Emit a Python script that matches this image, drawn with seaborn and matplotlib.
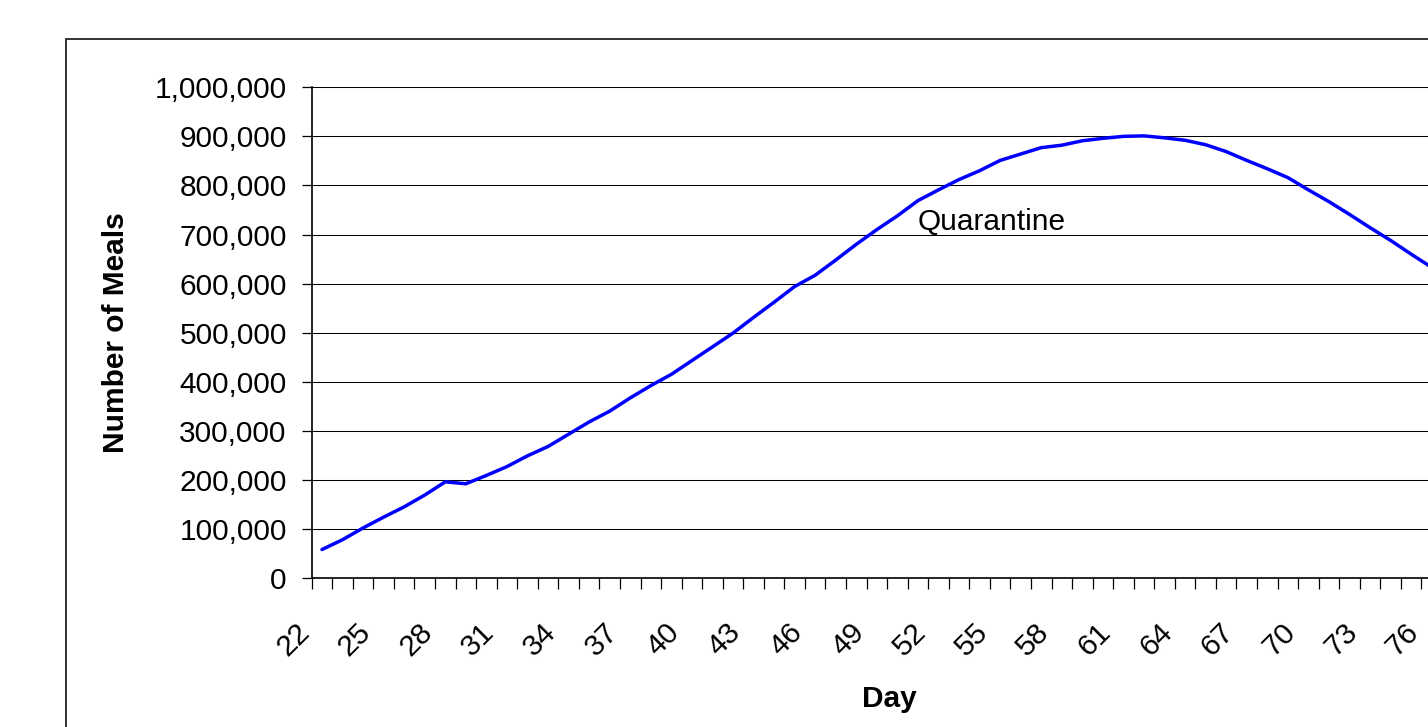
#!/usr/bin/env python3
"""Meals needed per day during the quarantine period."""

import matplotlib.pyplot as plt
import numpy as np
import pandas as pd
import seaborn as sns
from matplotlib.patches import Rectangle
from matplotlib.ticker import StrMethodFormatter
from matplotlib.transforms import ScaledTranslation

DAYS = list(range(22, 77))
MEALS = [
    58000, 78000, 102000, 124000, 145000, 169000, 196000, 192000, 209000, 227000,
    249000, 268000, 293000, 318000, 340000, 367000, 392000, 415000, 443000, 471000,
    499000, 531000, 562000, 594000, 617000, 648000, 680000, 710000, 738000, 769000,
    791000, 812000, 830000, 851000, 864000, 877000, 882000, 891000, 896000, 900000,
    901000, 897000, 892000, 883000, 869000, 851000, 834000, 816000, 791000, 767000,
    741000, 714000, 688000, 660000, 633000,
]
LABEL_DAYS = DAYS[::3]
Y_TICKS = list(range(0, 1000001, 100000))
ANNOTATION = "Quarantine"

W, H = 1428, 727


def main() -> None:
    sns.set_theme(style="white")
    plt.rcParams["font.family"] = ["Liberation Sans", "DejaVu Sans"]
    for key in ("text.color", "axes.labelcolor", "xtick.color", "ytick.color"):
        plt.rcParams[key] = "black"
    fs = 21.5

    df = pd.DataFrame({"Day": DAYS, "Meals": MEALS})

    fig = plt.figure(figsize=(W / 100, H / 100), dpi=100)
    # plot area runs off the right edge, as in the cropped original
    left, right = 311.7, 311.7 + 55 * 20.55
    top, bottom = 87.3, 578.0
    ax = fig.add_axes([left / W, 1 - bottom / H, (right - left) / W, (bottom - top) / H])

    sns.lineplot(data=df, x="Day", y="Meals", color="#0000FF", linewidth=2.5, ax=ax)

    ax.set_xlim(DAYS[0] - 0.5, DAYS[-1] + 0.5)
    ax.set_ylim(0, 1000000)

    ax.set_yticks(Y_TICKS)
    ax.yaxis.set_major_formatter(StrMethodFormatter("{x:,.0f}"))
    ax.tick_params(axis="y", which="major", direction="out", length=7.5, width=0.9,
                   color="black", pad=10.5, labelsize=fs, left=True)
    ax.yaxis.grid(True, color="black", linewidth=0.75)
    ax.set_axisbelow(True)

    ax.set_xticks(np.arange(DAYS[0] - 0.5, DAYS[-1] + 1, 1))
    ax.set_xticks(LABEL_DAYS, minor=True)
    ax.set_xticklabels([str(d) for d in LABEL_DAYS], minor=True, rotation=45, ha="right")
    ax.tick_params(axis="x", which="major", direction="out", length=8, width=0.9,
                   color="black", labelbottom=False, bottom=True)
    ax.tick_params(axis="x", which="minor", length=0, pad=29, labelsize=fs, bottom=True)
    shift = ScaledTranslation(-7 / 100, 0, fig.dpi_scale_trans)
    for lbl in ax.get_xticklabels(minor=True):
        lbl.set_transform(lbl.get_transform() + shift)

    for side in ("top", "right"):
        ax.spines[side].set_visible(False)
    for side in ("left", "bottom"):
        ax.spines[side].set_color("black")
        ax.spines[side].set_linewidth(1.2)

    ax.set_xlabel("Day", fontsize=fs, fontweight="bold")
    ax.xaxis.set_label_coords((889.5 - left) / (right - left), -(685 - bottom) / (bottom - top))
    ax.set_ylabel("Number of Meals", fontsize=fs, fontweight="bold")
    ax.yaxis.set_label_coords(-(left - 130) / (right - left), 0.5)

    ax.text(51.0, 710000, ANNOTATION, fontsize=fs, ha="left", va="baseline")

    # outer chart frame, cut off at right and bottom
    frame = Rectangle((65.5 / W, -0.5), 2, 1.5 - 39 / H, transform=fig.transFigure,
                      fill=False, edgecolor="#222222", linewidth=1.3, clip_on=False)
    fig.add_artist(frame)

    fig.savefig("out.png", dpi=100)
    plt.close(fig)


if __name__ == "__main__":
    main()
